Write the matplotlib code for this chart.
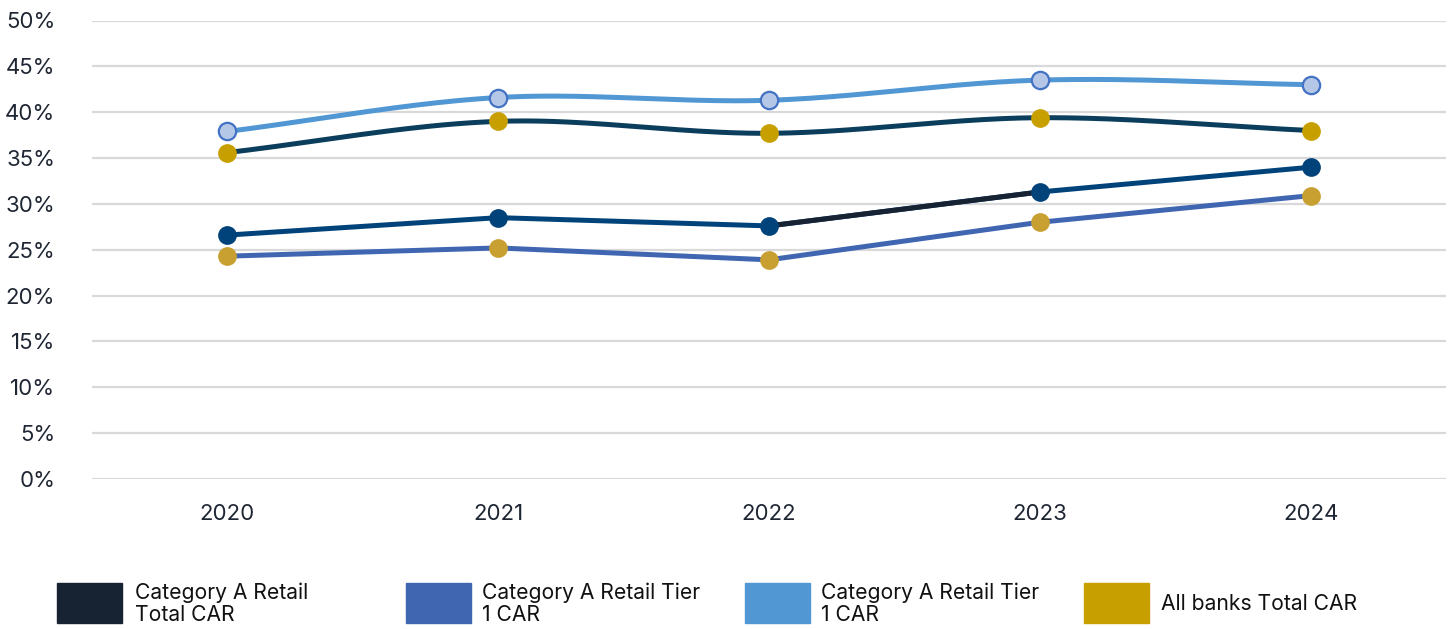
import numpy as np
import matplotlib
matplotlib.use("Agg")
import matplotlib.pyplot as plt
from matplotlib.patches import Rectangle

plt.rcParams['font.family'] = ['Inter', 'DejaVu Sans']

years = ["2020", "2021", "2022", "2023", "2024"]
tier1_light = [37.9, 41.6, 41.3, 43.5, 43.0]
total_dark = [35.6, 39.0, 37.7, 39.4, 38.0]
total_navy = [26.6, 28.5, 27.6, 31.3, 34.0]
tier1_blue = [24.3, 25.2, 23.9, 28.0, 30.9]
legend_labels = ["Category A Retail\nTotal CAR", "Category A Retail Tier\n1 CAR",
                 "Category A Retail Tier\n1 CAR", "All banks Total CAR"]
legend_colors = ["#172233", "#4066b2", "#5097d4", "#c7a000"]
y_ticks = list(range(0, 55, 5))

TEXT = "#1f2633"


def smooth(xs, ys, n=40):
    """Catmull-Rom spline through the points."""
    xs = np.asarray(xs, float)
    ys = np.asarray(ys, float)
    px = np.concatenate([[2 * xs[0] - xs[1]], xs, [2 * xs[-1] - xs[-2]]])
    py = np.concatenate([[2 * ys[0] - ys[1]], ys, [2 * ys[-1] - ys[-2]]])
    out_x, out_y = [], []
    t = np.linspace(0, 1, n)
    for i in range(1, len(px) - 2):
        for arr, out in ((px, out_x), (py, out_y)):
            p0, p1, p2, p3 = arr[i - 1], arr[i], arr[i + 1], arr[i + 2]
            seg = 0.5 * ((2 * p1) + (-p0 + p2) * t +
                         (2 * p0 - 5 * p1 + 4 * p2 - p3) * t ** 2 +
                         (-p0 + 3 * p1 - 3 * p2 + p3) * t ** 3)
            out.extend(seg)
    return np.array(out_x), np.array(out_y)


W, H = 1453, 629
fig = plt.figure(figsize=(W / 100, H / 100), dpi=100)
ax = fig.add_axes([92 / W, 1 - 479 / H, (1446 - 92) / W, (479 - 20.5) / H])

x = np.arange(len(years))

# smoothed series
sx, sy = smooth(x, tier1_light)
ax.plot(sx, sy, color="#5097d4", lw=3.6, solid_capstyle="round", zorder=3)
ax.plot(x, tier1_light, ls="none", marker="o", ms=12.5, mfc="#b4c7e7",
        mec="#4472c4", mew=1.6, zorder=4)

sx, sy = smooth(x, total_dark)
ax.plot(sx, sy, color="#0b3d5c", lw=3.6, solid_capstyle="round", zorder=3)
ax.plot(x, total_dark, ls="none", marker="o", ms=13.5, mfc="#c7a000",
        mec="#c7a000", mew=0, zorder=4)

# straight series
ax.plot(x, total_navy, color="#00427a", lw=3.6, zorder=3)
ax.plot(x[2:4], total_navy[2:4], color="#172233", lw=3.6, zorder=3)
ax.plot(x, total_navy, ls="none", marker="o", ms=13.5, mfc="#00427a",
        mec="#00427a", mew=0, zorder=4)

ax.plot(x, tier1_blue, color="#4066b2", lw=3.6, zorder=3)
ax.plot(x, tier1_blue, ls="none", marker="o", ms=13.5, mfc="#c8a032",
        mec="#c8a032", mew=0, zorder=4)

ax.set_xlim(-0.5, len(years) - 0.5)
ax.set_ylim(0, 50)
ax.set_yticks(y_ticks)
ax.set_yticklabels([f"{v}%" for v in y_ticks])
ax.set_xticks(x)
ax.set_xticklabels(years)
ax.grid(axis="y", color="#d9d9d9", lw=1.6, zorder=0)
ax.set_axisbelow(True)
for s in ax.spines.values():
    s.set_visible(False)
ax.tick_params(axis="both", length=0, labelsize=16, labelcolor=TEXT)
ax.tick_params(axis="y", pad=26.5)
ax.tick_params(axis="x", pad=18)

# legend
patch_x = [57, 406, 745, 1084]
text_x = [135, 482, 821, 1161]
for px_, tx, lab, col in zip(patch_x, text_x, legend_labels, legend_colors):
    fig.patches.append(Rectangle((px_ / W, 1 - 623 / H), 65 / W, 40 / H,
                                 transform=fig.transFigure, color=col))
    fig.text(tx / W, 1 - 603.5 / H, lab, ha="left", va="center",
             fontsize=15.2, color="#111111", linespacing=1.12)

fig.savefig("out.png", dpi=100)
